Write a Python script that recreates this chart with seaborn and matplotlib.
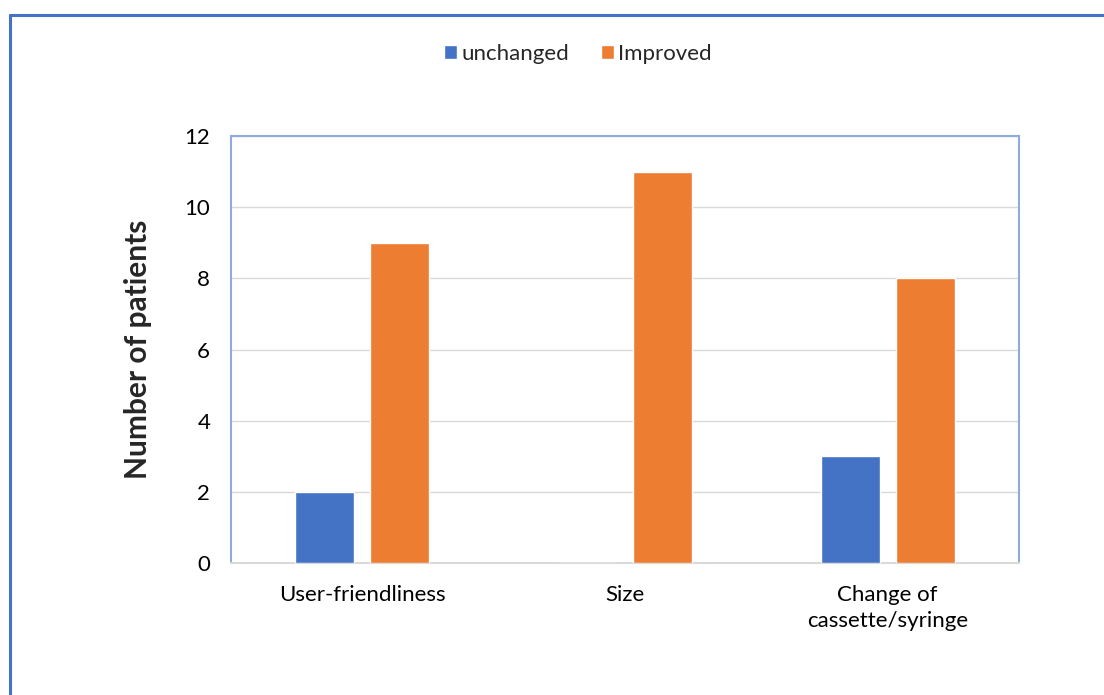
import matplotlib
matplotlib.use("Agg")
import matplotlib.pyplot as plt
import seaborn as sns
import pandas as pd
from matplotlib.lines import Line2D

categories = ["User-friendliness", "Size", "Change of\ncassette/syringe"]
unchanged = [2, 0, 3]
improved = [9, 11, 8]
series_names = ["unchanged", "Improved"]
yticks = [0, 2, 4, 6, 8, 10, 12]

df = pd.DataFrame({
    "category": categories * 2,
    "value": unchanged + improved,
    "series": [series_names[0]] * 3 + [series_names[1]] * 3,
})

sns.set_style("white")
plt.rcParams['font.family'] = ['Lato', 'DejaVu Sans']

fig = plt.figure(figsize=(11.04, 6.95), dpi=100)
ax = fig.add_axes([231/1104, 1 - 563/695, (1019-231)/1104, (563-136)/695])

sns.barplot(data=df, x="category", y="value", hue="series",
            palette=["#4472C4", "#ED7D31"], saturation=1, width=0.571, gap=0.213,
            ax=ax, legend=True, zorder=3)

ax.set_ylim(0, 12)
ax.set_yticks(yticks)
ax.set_xlim(-0.5, 2.5)
ax.yaxis.grid(True, color="#D9D9D9", linewidth=1, zorder=0)
ax.set_axisbelow(True)
for s in ["left", "top", "right"]:
    ax.spines[s].set_color("#8FAADC")
    ax.spines[s].set_linewidth(1.5)
ax.spines["bottom"].set_color("#D9D9D9")
ax.spines["bottom"].set_linewidth(1.5)
ax.tick_params(axis="both", length=0, labelsize=16, colors="black")
ax.tick_params(axis="y", pad=15)
ax.tick_params(axis="x", pad=16)
for lbl in ax.get_xticklabels():
    lbl.set_linespacing(1.35)
ax.set_xlabel("")
ax.set_ylabel("Number of patients", fontsize=21.5, fontweight="bold", labelpad=23)

handles, labels = ax.get_legend_handles_labels()
ax.legend(handles, labels, loc="center", bbox_to_anchor=(578/1104, 1 - 54/695),
          bbox_transform=fig.transFigure, ncol=2, frameon=False, fontsize=16,
          handlelength=0.6, handleheight=0.6, handletextpad=0.2, columnspacing=1.4)

# figure border (top and left visible)
fig.add_artist(Line2D([10/1104, 1], [1 - 14.5/695, 1 - 14.5/695], transform=fig.transFigure,
                      color="#4472C4", linewidth=2.2))
fig.add_artist(Line2D([10/1104, 10/1104], [0, 1 - 14.5/695], transform=fig.transFigure,
                      color="#4472C4", linewidth=2.2))

fig.savefig("out.png", dpi=100)
